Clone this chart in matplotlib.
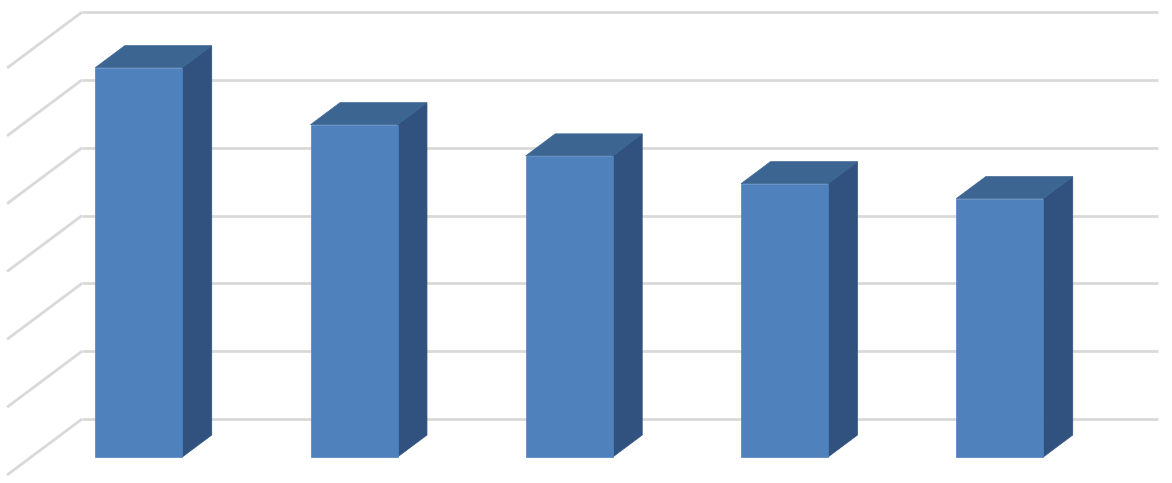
import matplotlib
matplotlib.use("Agg")
import matplotlib.pyplot as plt
from matplotlib.patches import Polygon

# Data
categories = ["1", "2", "3", "4", "5"]
values = [5.74, 4.90, 4.44, 4.03, 3.81]
gridline_values = [0, 1, 2, 3, 4, 5, 6]

# Oblique projection settings (depth z: 0 = back wall, 1 = front of floor)
DX, DY = -0.3484, -0.8256
BAR_W = 0.404
Z_BACK, Z_FRONT = 0.286, 0.679

FRONT = "#4f81bd"
SIDE = "#31527e"
TOP = "#3c6592"
GRID = "#d9d9d9"


def proj(x, y, z):
    return (x + DX * z, y + DY * z)


fig = plt.figure(figsize=(11.72, 4.83), dpi=100)
ax = fig.add_axes([0, 0, 1, 1])
ax.set_xlim(-0.8813, 4.5635)
ax.set_ylim(-0.9435, 6.177)
ax.axis("off")

x_left, x_right = -0.5, len(categories) - 0.5
for v in gridline_values:
    # back wall
    ax.plot([x_left, x_right], [v, v], color=GRID, lw=2.0, solid_capstyle="butt", zorder=1)
    # side wall diagonal
    p0 = proj(x_left, v, 0)
    p1 = proj(x_left, v, 1)
    ax.plot([p0[0], p1[0]], [p0[1], p1[1]], color=GRID, lw=2.0, solid_capstyle="butt", zorder=1)

for i, val in enumerate(values):
    x0 = i - BAR_W / 2
    x1 = i + BAR_W / 2
    front = [proj(x0, 0, Z_FRONT), proj(x1, 0, Z_FRONT), proj(x1, val, Z_FRONT), proj(x0, val, Z_FRONT)]
    side = [proj(x1, 0, Z_FRONT), proj(x1, 0, Z_BACK), proj(x1, val, Z_BACK), proj(x1, val, Z_FRONT)]
    top = [proj(x0, val, Z_FRONT), proj(x1, val, Z_FRONT), proj(x1, val, Z_BACK), proj(x0, val, Z_BACK)]
    ax.add_patch(Polygon(side, closed=True, facecolor=SIDE, edgecolor=SIDE, lw=0.5, zorder=3))
    ax.add_patch(Polygon(top, closed=True, facecolor=TOP, edgecolor=TOP, lw=0.5, zorder=3))
    ax.add_patch(Polygon(front, closed=True, facecolor=FRONT, edgecolor=FRONT, lw=0.5, zorder=4))

fig.savefig("out.png", dpi=100, facecolor="white")
